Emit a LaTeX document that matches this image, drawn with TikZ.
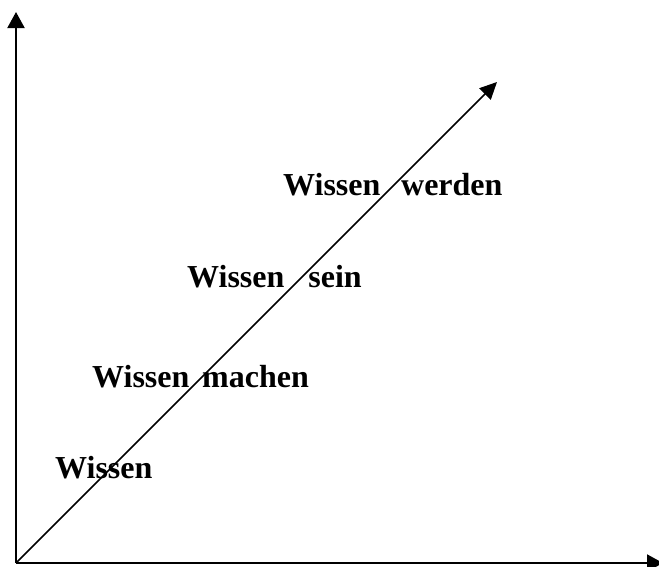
\documentclass[tikz,border=0pt]{standalone}
\usepackage{fontspec}
\setmainfont{Liberation Serif}
\usetikzlibrary{arrows.meta}
\begin{document}
\begin{tikzpicture}[x=1pt,y=-1pt,
  axis/.style={line width=2pt,-{Triangle[length=16pt,width=17pt]}},
  stufe/.style={anchor=base west,inner sep=0pt,font=\fontsize{32}{38}\selectfont\bfseries}]
\useasboundingbox (0,0) rectangle (659,566);
\coordinate (origin) at (16,563);
\coordinate (ytop) at (16,12);
\coordinate (xend) at (663,563);
\coordinate (dtop) at (497,82);

\draw[axis] (origin) -- (ytop);
\draw[axis] (origin) -- (xend);
\draw[line width=1.6pt,-{Triangle[length=17pt,width=16pt]}] (origin) -- (dtop);

\node[stufe] (wissen) at (55,478) {Wissen};
\node[stufe] (machen) at (92,387) {Wissen\hspace{0.4em}machen};
\node[stufe] (sein) at (187,287) {Wissen\hspace{0.75em}sein};
\node[stufe] (werden) at (283,195) {Wissen\hspace{0.65em}werden};
\end{tikzpicture}
\end{document}
